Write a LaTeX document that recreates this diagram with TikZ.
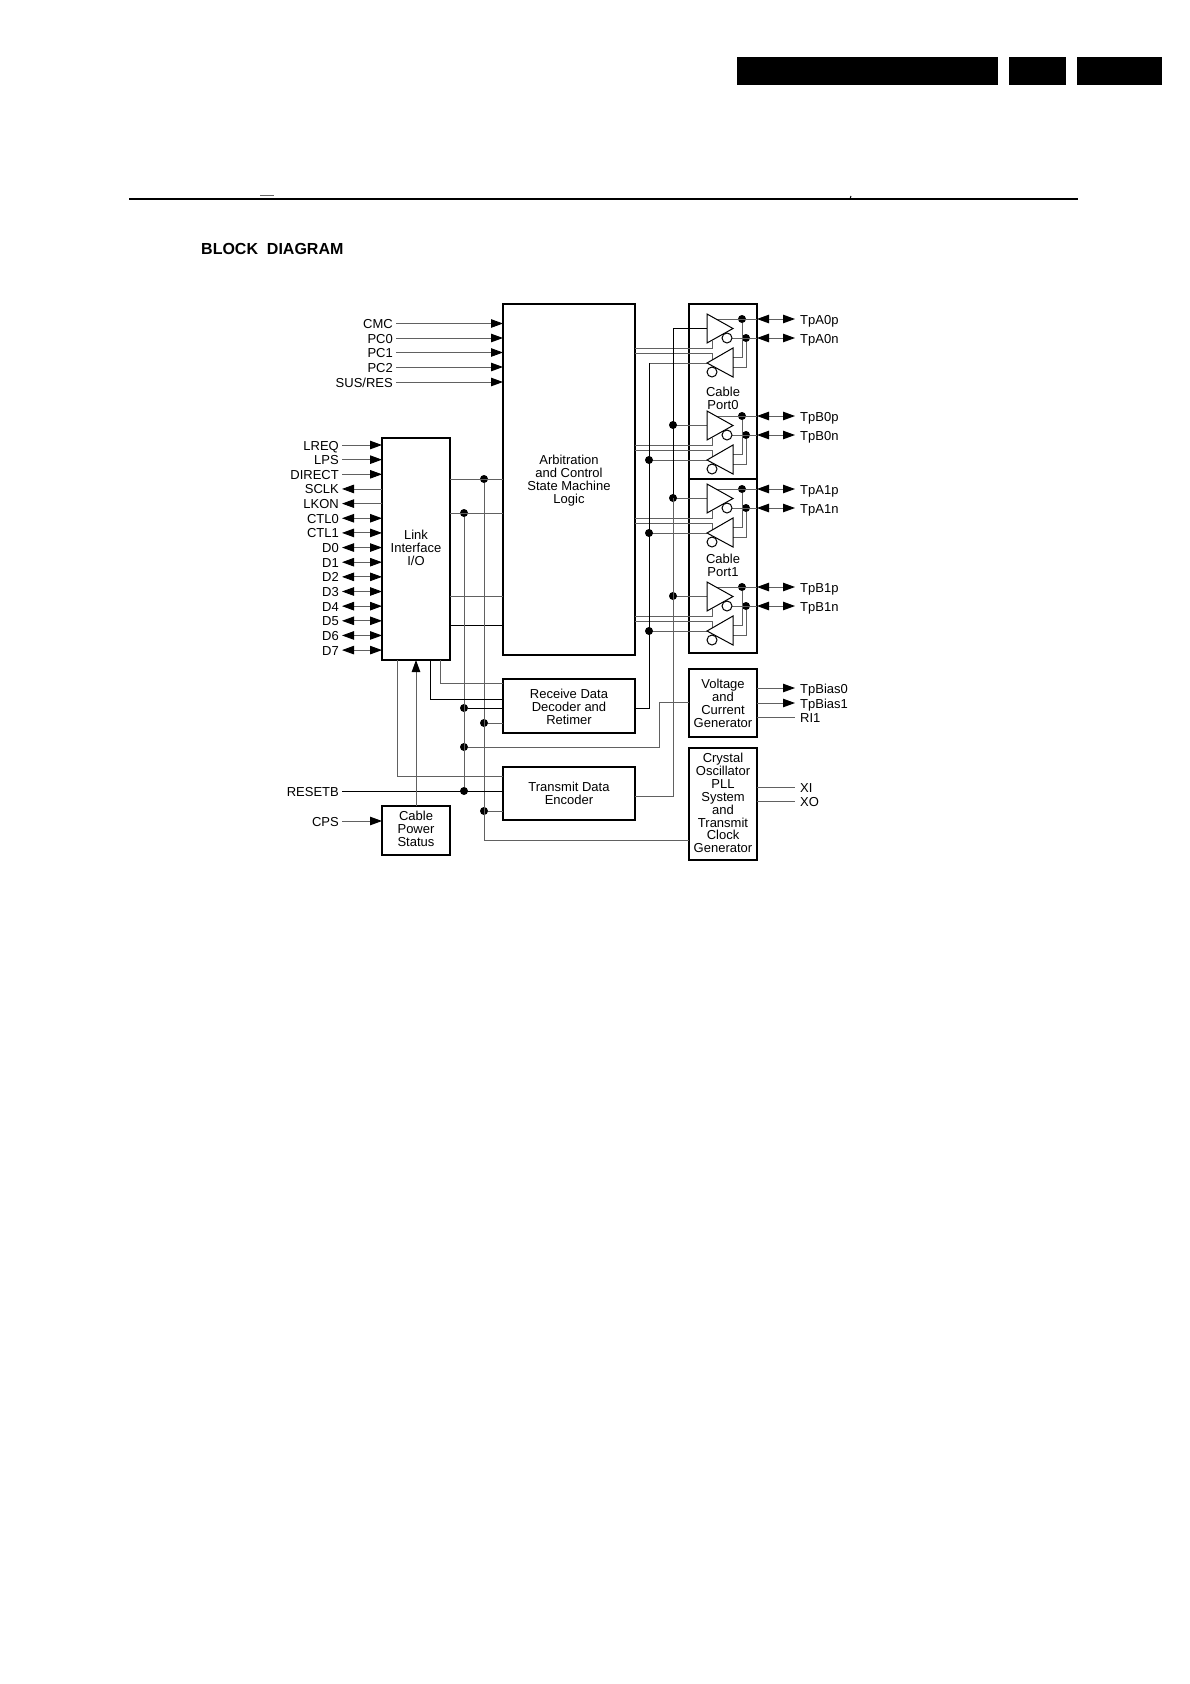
\documentclass[tikz,border=0pt]{standalone}
\usepackage{fontspec}
\setmainfont{Liberation Sans}
\usetikzlibrary{arrows.meta}

\begin{document}
\begin{tikzpicture}[
  x=1pt, y=-1pt,
  every node/.style={font=\fontsize{13}{12.9}\selectfont},
  block/.style={rectangle, draw, line width=1.5pt, align=center, inner sep=0pt, outer sep=0pt},
  bar/.style={rectangle, fill=black, inner sep=0pt, outer sep=0pt},
  wire/.style={draw=black!62, line width=0.9pt},
  darkwire/.style={draw=black, line width=0.9pt},
  dot/.style={circle, fill=black, inner sep=0pt, minimum size=8pt},
  bubble/.style={circle, draw=black, fill=white, line width=1pt, inner sep=0pt, minimum size=10pt},
  buffer/.style={draw=black, line width=1pt, line join=miter},
  leftlabel/.style={anchor=east, inner xsep=3pt, inner ysep=0pt, text height=10pt, text depth=0pt},
  rightlabel/.style={anchor=west, inner xsep=5pt, inner ysep=0pt, text height=10pt, text depth=0pt},
  pinIn/.style={wire, -{Triangle[length=12pt,width=8.5pt,black]}},
  pinOut/.style={wire, {Triangle[length=12pt,width=8.5pt,black]}-},
  pinBoth/.style={wire, {Triangle[length=12pt,width=8.5pt,black]}-{Triangle[length=12pt,width=8.5pt,black]}}
]
\useasboundingbox (0,0) rectangle (1190,1684);

% Page header
\node[bar, minimum width=261pt, minimum height=28pt] (headA) at (867.5,71) {};
\node[bar, minimum width=57pt, minimum height=28pt] (headB) at (1037.5,71) {};
\node[bar, minimum width=85pt, minimum height=28pt] (headC) at (1119.5,71) {};
\draw[line width=1.6pt] (129,199) -- (1078,199);
\draw[black!60, line width=1pt] (260,195) -- (274,195);
\draw[line width=1pt] (850,199) -- (851,196);
\node[anchor=west, inner sep=0pt, font=\fontsize{16}{18}\bfseries\selectfont] (title) at (201,249) {BLOCK\ \ DIAGRAM};

% Blocks
\node[block, minimum width=132pt, minimum height=351pt] (arb) at (569,479.5) {};
\node[align=center, inner sep=0pt] (arbtext) at (569,480.5)
{Arbitration\\and Control\\State Machine\\Logic};
\node[block, minimum width=68pt, minimum height=222pt] (link) at (416,549) {};
\node[align=center, inner sep=0pt] (linktext) at (416,547.5) {Link\\Interface\\I/O};
\node[block, minimum width=132pt, minimum height=54pt] (receive) at (569,706) {};
\node[align=center, inner sep=0pt] (receivetext) at (569,707) {Receive Data\\Decoder and\\Retimer};
\node[block, minimum width=132pt, minimum height=53pt] (transmit) at (569,793.5)
{Transmit Data\\Encoder};
\node[block, minimum width=68pt, minimum height=49pt] (power) at (416,830.5) {};
\node[align=center, inner sep=0pt] (powertext) at (416,828.5) {Cable\\Power\\Status};
\node[block, minimum width=68pt, minimum height=175pt] (port0) at (723,391.5) {};
\node[block, minimum width=68pt, minimum height=174pt] (port1) at (723,566) {};
\node[block, minimum width=68pt, minimum height=68pt] (voltage) at (723,703)
{Voltage\\and\\Current\\Generator};
\node[block, minimum width=68pt, minimum height=112pt] (crystal) at (723,804) {};
\node[align=center, inner sep=0pt] (crystaltext) at (723,803)
{Crystal\\Oscillator\\PLL\\System\\and\\Transmit\\Clock\\Generator};
\node[align=center, inner sep=0pt] (port0text) at (723,398) {Cable\\Port0};
\node[align=center, inner sep=0pt] (port1text) at (723,565) {Cable\\Port1};

% Pins on the left
\foreach \lab/\kind [count=\i from 0] in {LREQ/pinIn, LPS/pinIn, DIRECT/pinIn, SCLK/pinOut, LKON/pinOut,
    CTL0/pinBoth, CTL1/pinBoth, D0/pinBoth, D1/pinBoth, D2/pinBoth, D3/pinBoth, D4/pinBoth, D5/pinBoth, D6/pinBoth, D7/pinBoth} {
  \node[leftlabel] (pin\i) at (342,{445+14.65*\i}) {\lab};
  \draw[\kind] (pin\i.east) -- (link.west |- pin\i.east);
}
\foreach \lab/\ypos [count=\i from 0] in {CMC/323.5, PC0/338, PC1/352.5, PC2/367, SUS\slash RES/382} {
  \node[leftlabel] (ctl\i) at (396,\ypos) {\lab};
  \draw[pinIn] (ctl\i.east) -- (arb.west |- ctl\i.east);
}
\node[leftlabel] (resetb) at (342,791) {RESETB};
\node[leftlabel] (cps) at (342,821) {CPS};

% Pins on the right
\foreach \lab/\ypos [count=\i from 0] in {TpBias0/688, TpBias1/703} {
  \node[rightlabel] (bias\i) at (795,\ypos) {\lab};
  \draw[pinIn] (voltage.east |- bias\i.west) -- (bias\i.west);
}
\node[rightlabel] (ri) at (795,717) {RI1};
\node[rightlabel] (xi) at (795,787) {XI};
\node[rightlabel] (xo) at (795,801) {XO};
\draw[wire] (voltage.east |- ri.west) -- (ri.west);
\draw[wire] (crystal.east |- xi.west) -- (xi.west);
\draw[wire] (crystal.east |- xo.west) -- (xo.west);

% Bus dots
\coordinate (busT) at (673,328);
\coordinate (busR) at (649,363);
\node[dot] (busAtop) at (484,479) {};
\node[dot] (busBtop) at (464,513) {};
\node[dot] (rxData) at (464,708) {};
\node[dot] (biasDot) at (464,747) {};
\node[dot] (resetDot) at (464,791) {};
\node[dot] (rxClock) at (484,723) {};
\node[dot] (txClock) at (484,811) {};
\coordinate (busAend) at (484,840);

% Drivers
\foreach \n/\dy/\port/\pLab/\mLab in {a0/0/port0/TpA0p/TpA0n, b0/97/port0/TpB0p/TpB0n, a1/170/port1/TpA1p/TpA1n, b1/268/port1/TpB1p/TpB1n} {
  \begin{scope}[shift={(0,\dy)}]
    \coordinate (\n-txIn) at (707,328);
    \coordinate (\n-rxIn) at (707,363);
    \coordinate (\n-enA) at (712,348);
    \coordinate (\n-enB) at (712,353);
    \coordinate (\n-rxP) at (733,357);
    \coordinate (\n-rxN) at (733,367);
    \node[dot] (\n-pDot) at (742,319) {};
    \node[dot] (\n-nDot) at (746,338) {};
    \node[rightlabel] (\n-pLab) at (795,319) {\pLab};
    \node[rightlabel] (\n-nLab) at (795,338) {\mLab};
    \draw[wire] (716,319) -- (\port.east |- \n-pLab.west);
    \draw[wire] (727,338) -- (\port.east |- \n-nLab.west);
    \draw[wire] (\n-rxP) -| (\n-pDot);
    \draw[wire] (\n-rxN) -| (\n-nDot);
    \draw[pinBoth] (\port.east |- \n-pLab.west) -- (\n-pLab.west);
    \draw[pinBoth] (\port.east |- \n-nLab.west) -- (\n-nLab.west);
    \draw[wire] (arb.east |- \n-enA) -- (\n-enA) -- (712,340.5);
    \draw[wire] (arb.east |- \n-enB) -- (\n-enB) -- (712,360);
    \draw[wire] (busT |- \n-txIn) -- (\n-txIn);
    \draw[wire] (busR |- \n-rxIn) -- (\n-rxIn);
    \draw[buffer] (707,314) -- (733,328.5) -- (707,343) -- cycle;
    \draw[buffer] (733,348) -- (707,363) -- (733,377) -- cycle;
    \node[bubble] (\n-txBub) at (727,338) {};
    \node[bubble] (\n-rxBub) at (712,372) {};
  \end{scope}
}
\foreach \n in {b0, a1, b1} {
  \node[dot] (\n-tDot) at (busT |- \n-txIn) {};
  \node[dot] (\n-rDot) at (busR |- \n-rxIn) {};
}

% Connections
\draw[darkwire] (busT) -- (a0-txIn);
\draw[darkwire] (busT) -- (busT |- a1-txIn);
\draw[wire] (busT |- a1-txIn) |- (transmit.east |- 0,796);
\draw[darkwire] (busR) -- (busR |- 0,708) -- (receive.east |- 0,708);
\draw[wire] (link.east |- busAtop) -- (arb.west |- busAtop);
\draw[wire] (link.east |- busBtop) -- (arb.west |- busBtop);
\draw[wire] (link.east |- 0,596) -- (arb.west |- 0,596);
\draw[darkwire] (link.east |- 0,625) -- (arb.west |- 0,625);
\draw[wire] (busAtop) -- (busAend) -- (crystal.west |- busAend);
\draw[wire] (busBtop) -- (resetDot);
\draw[darkwire] (rxData) -- (receive.west |- rxData);
\draw[wire] (rxClock) -- (receive.west |- rxClock);
\draw[wire] (txClock) -- (transmit.west |- txClock);
\draw[wire] (biasDot) -- (659,747) -- (659,702) -- (voltage.west |- 0,702);
\draw[darkwire] (resetb.east) -- (transmit.west |- resetb.east);
\draw[pinIn] (cps.east) -- (power.west |- cps.east);
\draw[pinIn] (power.north) -- (link.south);
\draw[wire] (397,660) -- (397,776) -- (transmit.west |- 0,776);
\draw[darkwire] (430,660) -- (430,699) -- (receive.west |- 0,699);
\draw[wire] (440,660) -- (440,683) -- (receive.west |- 0,683);

\end{tikzpicture}
\end{document}
